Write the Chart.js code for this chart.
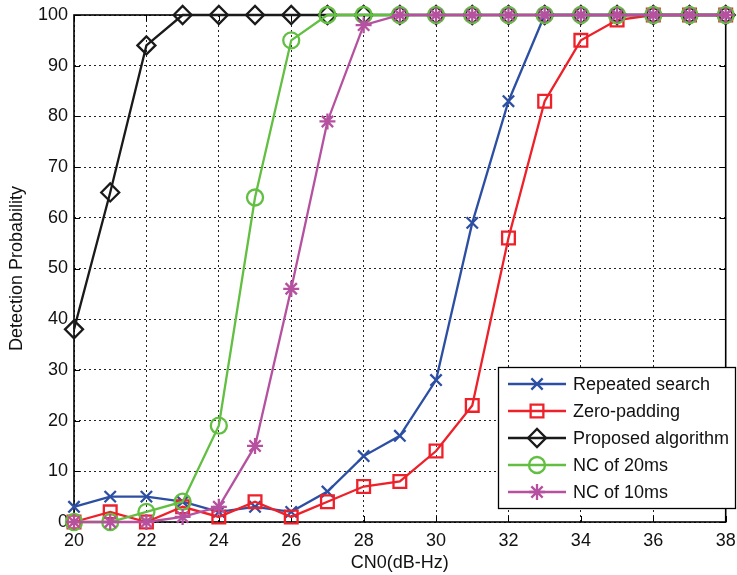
<!DOCTYPE html>
<html><head><meta charset="utf-8">
<script src="https://cdn.jsdelivr.net/npm/chart.js@4/dist/chart.umd.min.js"></script>
<style>html,body{margin:0;padding:0;background:#fff}#wrap{width:737px;height:575px}</style>
</head><body><div id="wrap"><canvas id="c" width="737" height="575"></canvas></div>
<script>
const cn0 = [20,21,22,23,24,25,26,27,28,29,30,31,32,33,34,35,36,37,38];
const repeatedSearch = [3,5,5,4,2,3,2,6,13,17,28,59,83,100,100,100,100,100,100];
const zeroPadding = [0,2,0,3,1,4,1,4,7,8,14,23,56,83,95,99,100,100,100];
const proposed = [38,65,94,100,100,100,100,100,100,100,100,100,100,100,100,100,100,100,100];
const nc20 = [0,0,2,4,19,64,95,100,100,100,100,100,100,100,100,100,100,100,100];
const nc10 = [0,0,0,1,3,15,46,79,98,100,100,100,100,100,100,100,100,100,100];
const seriesNames = ['Repeated search','Zero-padding','Proposed algorithm','NC of 20ms','NC of 10ms'];

const FONT = "'Liberation Sans', Arial, sans-serif";
const cols = ['#2d4fa3','#ee2029','#1a1a1a','#62bf41','#b5519f'];
const styles = ['crossRot','rect','rectRot','circle','star'];
const radii = [8,9,9,8,8];
const datas = [repeatedSearch, zeroPadding, proposed, nc20, nc10];
const orders = [4,3,2,1,0];

const datasets = datas.map((d,i)=>({
  label: seriesNames[i],
  data: d.map((v,j)=>({x:cn0[j], y:v})),
  borderColor: cols[i], backgroundColor: 'rgba(0,0,0,0)',
  pointBorderColor: cols[i], pointBackgroundColor: 'rgba(0,0,0,0)',
  borderWidth: 2.3, pointBorderWidth: 2.3,
  pointStyle: styles[i], pointRadius: radii[i],
  tension: 0, order: orders[i], clip: false
}));

const legendPlugin = {
  id: 'boxLegend',
  afterDatasetsDraw(chart){
    const ctx = chart.ctx;
    const x0 = 498, y0 = 367, x1 = 736, y1 = 509;
    ctx.save();
    ctx.fillStyle = '#fff';
    ctx.fillRect(x0,y0,x1-x0,y1-y0);
    ctx.strokeStyle = '#000'; ctx.lineWidth = 1.3;
    ctx.strokeRect(x0+0.5,y0+0.5,x1-x0-1,y1-y0-1);
    const ys = [384,411,438,465,492];
    ctx.font = '18px ' + FONT;
    ctx.textBaseline = 'middle';
    seriesNames.forEach((n,i)=>{
      const y = ys[i];
      ctx.strokeStyle = cols[i]; ctx.lineWidth = 2.3;
      ctx.beginPath(); ctx.moveTo(508,y); ctx.lineTo(566,y); ctx.stroke();
      ctx.fillStyle = 'rgba(0,0,0,0)';
      Chart.helpers.drawPoint(ctx, {pointStyle: styles[i], radius: radii[i], borderWidth: 2.3}, 537, y);
      ctx.fillStyle = '#111';
      ctx.fillText(n, 573, y+1);
    });
    ctx.restore();
  }
};

const frameTicks = {
  id: 'frameTicks',
  beforeDatasetsDraw(chart){
    const {ctx, chartArea:a, scales} = chart;
    ctx.save();
    ctx.strokeStyle = '#000'; ctx.lineWidth = 1;
    cn0.filter(v=>v%2===0).forEach(v=>{
      const x = Math.round(scales.x.getPixelForValue(v))+0.5;
      ctx.beginPath(); ctx.moveTo(x,a.bottom); ctx.lineTo(x,a.bottom-6);
      ctx.moveTo(x,a.top); ctx.lineTo(x,a.top+6); ctx.stroke();
    });
    for(let v=0; v<=100; v+=10){
      const y = Math.round(scales.y.getPixelForValue(v))+0.5;
      ctx.beginPath(); ctx.moveTo(a.left,y); ctx.lineTo(a.left+6,y);
      ctx.moveTo(a.right,y); ctx.lineTo(a.right-6,y); ctx.stroke();
    }
    ctx.lineWidth = 1.6;
    ctx.strokeRect(a.left, a.top, a.right-a.left, a.bottom-a.top);
    ctx.restore();
  }
};

new Chart(document.getElementById('c'), {
  type: 'line',
  data: { datasets },
  options: {
    responsive: false, animation: false, devicePixelRatio: 1,
    layout: { padding: { left: 0, right: 0, top: 15, bottom: 0 } },
    plugins: { legend: { display: false }, tooltip: { enabled: false } },
    scales: {
      x: {
        type: 'linear', min: 20, max: 38,
        afterFit(s){ s.height = 53; s.paddingRight = 9; s.paddingLeft = 0; },
        ticks: { stepSize: 2, color: '#111', font: { family: FONT, size: 18 }, padding: 8, maxRotation: 0 },
        grid: { color: '#222', lineWidth: 1, drawTicks: false },
        border: { display: false, dash: [2,3] },
        title: { display: true, text: 'CN0(dB-Hz)', color: '#111', font: { family: FONT, size: 18 }, padding: { top: 0, bottom: 1 } }
      },
      y: {
        min: 0, max: 100,
        afterFit(s){ s.width = 74; s.paddingTop = 0; s.paddingBottom = 0; },
        ticks: { stepSize: 10, color: '#111', font: { family: FONT, size: 18 }, padding: 6 },
        grid: { color: '#222', lineWidth: 1, drawTicks: false },
        border: { display: false, dash: [2,3] },
        title: { display: true, text: 'Detection Probability', color: '#111', font: { family: FONT, size: 18 }, padding: { top: 6, bottom: 0 } }
      }
    }
  },
  plugins: [frameTicks, legendPlugin]
});
</script>
</body></html>
